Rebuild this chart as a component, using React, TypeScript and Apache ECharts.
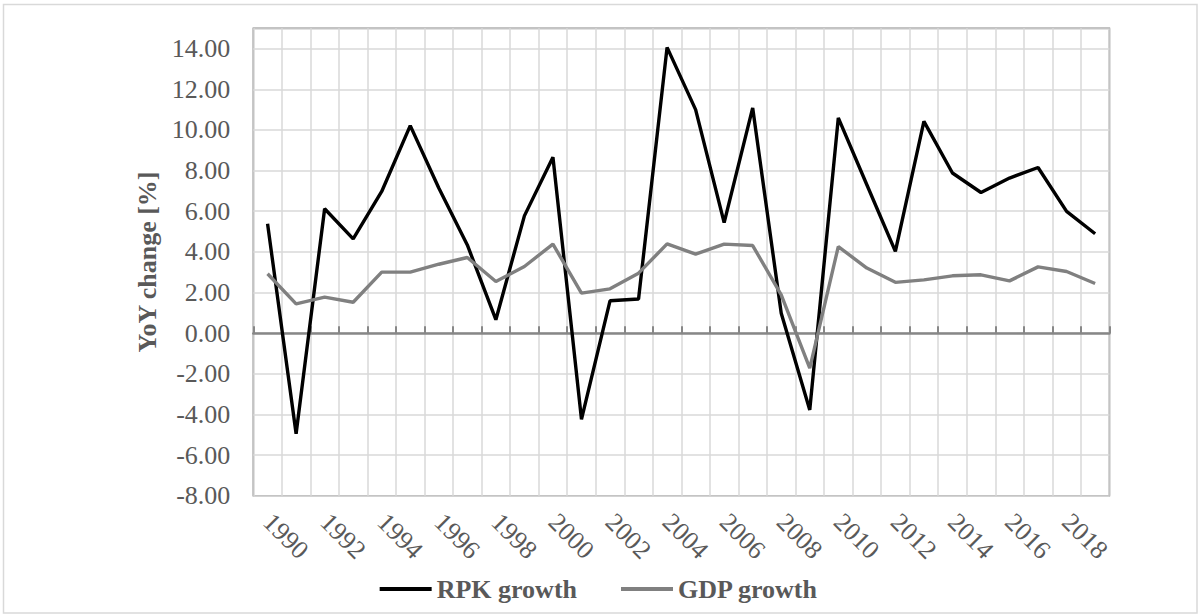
import React, { useEffect, useRef } from "react";
import * as echarts from "echarts";

const years = [
  "1990", "1991", "1992", "1993", "1994", "1995", "1996", "1997", "1998", "1999",
  "2000", "2001", "2002", "2003", "2004", "2005", "2006", "2007", "2008", "2009",
  "2010", "2011", "2012", "2013", "2014", "2015", "2016", "2017", "2018", "2019",
];
const rpkGrowth = [
  5.38, -4.95, 6.12, 4.64, 6.97, 10.21, 7.14, 4.34, 0.66, 5.77,
  8.66, -4.24, 1.59, 1.68, 14.06, 11.0, 5.44, 11.08, 0.98, -3.78,
  10.59, 7.3, 4.02, 10.42, 7.88, 6.92, 7.63, 8.15, 5.99, 4.89,
];
const gdpGrowth = [
  2.92, 1.44, 1.77, 1.52, 3.0, 3.0, 3.39, 3.72, 2.54, 3.28,
  4.38, 1.97, 2.18, 2.95, 4.39, 3.89, 4.38, 4.31, 1.88, -1.72,
  4.26, 3.2, 2.5, 2.62, 2.82, 2.87, 2.57, 3.26, 3.03, 2.44,
];
const seriesNames = ["RPK growth", "GDP growth"];
const yAxisTitle = "YoY change [%]";

const FONT = "'Liberation Serif', 'Times New Roman', serif";
const TEXT = "#595959";
const GRID = "#d9d9d9";
const AXIS = "#878787";

export default function App() {
  const ref = useRef<HTMLDivElement>(null);
  useEffect(() => {
    if (!ref.current) return;
    const chart = echarts.init(ref.current, null, { renderer: "svg" });
    chart.setOption({
      animation: false,
      backgroundColor: "#ffffff",
      textStyle: { fontFamily: FONT },
      graphic: [
        {
          type: "rect",
          shape: { x: 3.5, y: 4.5, width: 1193.5, height: 608.5 },
          style: { fill: "none", stroke: GRID, lineWidth: 1.5 },
          silent: true,
        },
      ],
      grid: {
        left: 253.3,
        right: 88.6,
        top: 28.3,
        bottom: 119.3,
        show: true,
        borderColor: AXIS,
        borderWidth: 1.5,
        outerBoundsMode: "none",
      },
      legend: {
        data: seriesNames,
        bottom: 8,
        left: "center",
        icon: "rect",
        itemWidth: 52,
        itemHeight: 4,
        itemGap: 44,
        textStyle: { fontFamily: FONT, fontSize: 26, fontWeight: "bold", color: TEXT },
      },
      xAxis: [
        {
          type: "category",
          data: years,
          boundaryGap: true,
          position: "bottom",
          axisLine: { show: false, onZero: false },
          axisTick: { show: false },
          axisLabel: {
            interval: 1,
            rotate: -45,
            margin: 22,
            fontFamily: FONT,
            fontSize: 26,
            color: TEXT,
          },
          splitLine: { show: true, interval: 0, lineStyle: { color: GRID, width: 1.5 } },
        },
        {
          type: "category",
          data: years,
          boundaryGap: true,
          position: "bottom",
          axisLine: { show: true, onZero: true, onZeroAxisIndex: 0, lineStyle: { color: AXIS, width: 2.5 } },
          axisTick: { show: true, inside: true, interval: 0, length: 7, lineStyle: { color: AXIS, width: 2 } },
          axisLabel: { show: false },
          splitLine: { show: false },
        },
      ],
      yAxis: {
        type: "value",
        min: -8,
        max: 15,
        interval: 2,
        name: yAxisTitle,
        nameLocation: "middle",
        nameGap: 92,
        nameTextStyle: { fontFamily: FONT, fontSize: 26, fontWeight: "bold", color: TEXT },
        axisLine: { show: false },
        axisTick: { show: false },
        axisLabel: {
          margin: 23,
          fontFamily: FONT,
          fontSize: 26,
          color: TEXT,
          formatter: (v: number) => (v > 14 ? "" : v.toFixed(2)),
        },
        splitLine: { show: true, lineStyle: { color: GRID, width: 1.5 } },
      },
      series: [
        {
          name: seriesNames[0],
          type: "line",
          data: rpkGrowth,
          xAxisIndex: 0,
          showSymbol: false,
          symbol: "none",
          color: "#000000",
          lineStyle: { color: "#000000", width: 3.4 },
          z: 3,
        },
        {
          name: seriesNames[1],
          type: "line",
          data: gdpGrowth,
          xAxisIndex: 0,
          showSymbol: false,
          symbol: "none",
          color: "#808080",
          lineStyle: { color: "#808080", width: 3.4 },
          z: 4,
        },
      ],
    });
    return () => chart.dispose();
  }, []);
  return (
    <div
      ref={ref}
      style={{ position: "absolute", left: 0, top: 0, width: 1198, height: 615 }}
    />
  );
}
